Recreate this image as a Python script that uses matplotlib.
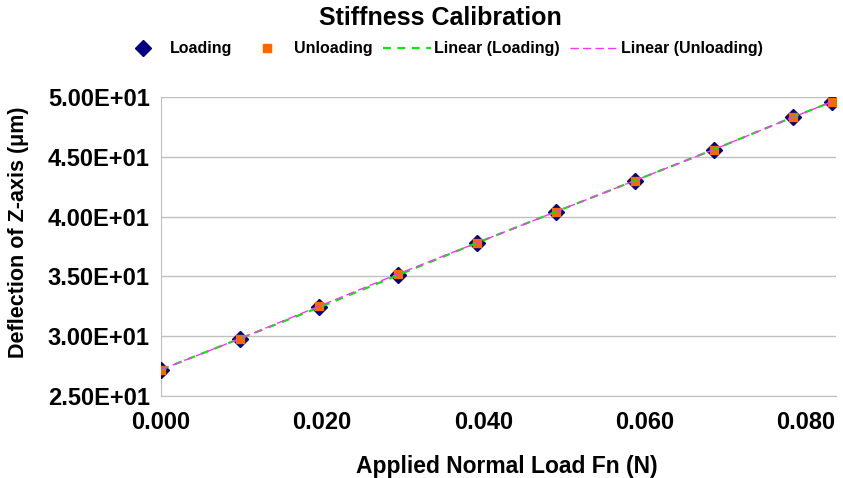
import numpy as np
import matplotlib as mpl
mpl.use('Agg')
import matplotlib.pyplot as plt
from matplotlib.ticker import FormatStrFormatter

# applied load (N) and deflection (um)
load = [0.0, 0.0098, 0.0196, 0.0294, 0.0392, 0.0490, 0.0588, 0.0686, 0.0784, 0.0833]
loading = [27.2, 29.8, 32.4, 35.1, 37.8, 40.4, 43.0, 45.6, 48.3, 49.6]
unloading = [27.2, 29.8, 32.5, 35.2, 37.8, 40.4, 43.0, 45.6, 48.3, 49.6]

yticks = [25, 30, 35, 40, 45, 50]
xticks = [0.0, 0.02, 0.04, 0.06, 0.08]

plt.rcParams['font.family'] = ['Liberation Sans', 'DejaVu Sans']

W, H = 843, 478
fig = plt.figure(figsize=(W / 100, H / 100), dpi=100)
ax = fig.add_axes([161 / W, 1 - 396 / H, 675 / W, 299 / H])

ax.plot(load, loading, linestyle='none', marker='D', color='#000080',
        markersize=8.5, label='Loading', zorder=3)
ax.plot(load, unloading, linestyle='none', marker='s', color='#FF6600',
        markersize=6, label='Unloading', zorder=4)
ax.plot(load, loading, '--', color='#00EE00', lw=1.6, dashes=(3.5, 3),
        label='Linear (Loading)', zorder=5)
ax.plot(load, unloading, '--', color='#FF33FF', lw=1.0, dashes=(6, 3),
        label='Linear (Unloading)', zorder=6)

ax.set_xlim(0, 0.0838)
ax.set_ylim(25, 50)
ax.set_xticks(xticks)
ax.set_yticks(yticks)
ax.xaxis.set_major_formatter(FormatStrFormatter('%.3f'))
ax.set_yticklabels(['%.2fE+01' % (v / 10) for v in yticks])
ax.grid(axis='y', color='#C0C0C0', lw=1)
ax.set_axisbelow(True)
for s in ['top', 'right']:
    ax.spines[s].set_visible(False)
for s in ['left', 'bottom']:
    ax.spines[s].set_color('#C0C0C0')
ax.tick_params(axis='y', length=0, labelsize=17, pad=8)
ax.tick_params(axis='x', length=0, labelsize=17, pad=11)
for t in ax.get_xticklabels() + ax.get_yticklabels():
    t.set_fontweight('bold')

ax.set_xlabel('Applied Normal Load Fn (N)', fontsize=16.5, fontweight='bold')
ax.set_ylabel('Deflection of Z-axis (\u03bcm)', fontsize=15.5, fontweight='bold')
ax.xaxis.set_label_coords((507 - 161) / 675, -(466 - 396) / 299)
ax.yaxis.set_label_coords(-(161 - 18) / 675, (396 - 232) / 299)
ax.xaxis.label.set_va('center')
ax.yaxis.label.set_va('center')

fig.text(440 / W, 1 - 18 / H, 'Stiffness Calibration', ha='center', va='center',
         fontsize=18, fontweight='bold')

leg = fig.legend(loc='center', bbox_to_anchor=(441 / W, 1 - 49 / H), ncol=4, frameon=False,
                 fontsize=11.5, handlelength=3.0, handletextpad=0.15, columnspacing=0.7)
for t in leg.get_texts():
    t.set_fontweight('bold')

fig.savefig('out.png', dpi=100)
